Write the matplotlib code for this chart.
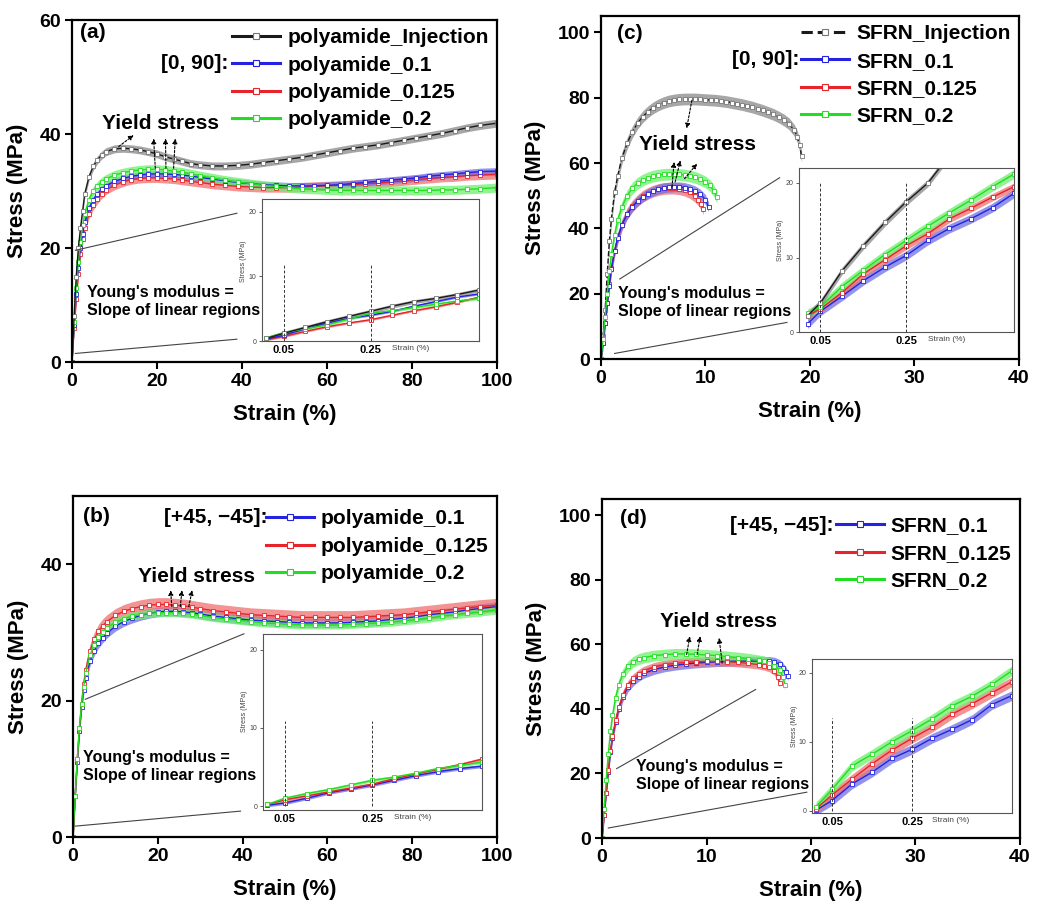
import numpy as np
import matplotlib.pyplot as plt
from matplotlib.lines import Line2D

plt.rcParams['font.family'] = ['Liberation Sans', 'DejaVu Sans']
plt.rcParams['font.weight'] = 'bold'

# ---------------- polyamide, strain grid shared by (a) and (b) ----------------
strain_pa = [0, 0.5, 1, 1.5, 2, 2.5, 3, 4, 5, 6, 7, 8, 10, 12, 14, 16, 18, 20, 22, 24,
             26, 28, 30, 33, 36, 39, 42, 45, 48, 51, 54, 57, 60, 63, 66, 69, 72, 75,
             78, 81, 84, 87, 90, 93, 96, 100]

# (a) [0, 90]
pa_inj = [0, 8, 15, 20, 23.5, 26.5, 29.5, 32.5, 34.3, 35.5, 36.3, 36.9, 37.4, 37.5, 37.4,
          37.2, 36.9, 36.5, 36.0, 35.6, 35.2, 34.8, 34.6, 34.4, 34.4, 34.5, 34.7, 35.0,
          35.3, 35.6, 35.9, 36.3, 36.7, 37.1, 37.5, 37.8, 38.1, 38.5, 38.9, 39.3, 39.7,
          40.1, 40.6, 41.1, 41.5, 41.9]
pa090_01 = [0, 6.5, 12, 16.5, 20, 22.5, 24.5, 27, 28.5, 29.5, 30.3, 30.9, 31.7, 32.2, 32.6,
            32.8, 33.0, 33.0, 33.0, 32.9, 32.8, 32.6, 32.4, 32.1, 31.8, 31.5, 31.3, 31.1,
            31.0, 30.9, 30.9, 30.9, 31.0, 31.1, 31.3, 31.5, 31.7, 31.9, 32.1, 32.3, 32.6,
            32.8, 33.0, 33.2, 33.4, 33.5]
pa090_0125 = [0, 6, 11, 15.5, 19, 21.5, 23.5, 26, 27.5, 28.6, 29.5, 30.2, 31.0, 31.6, 32.0,
              32.2, 32.3, 32.3, 32.2, 32.1, 31.9, 31.7, 31.5, 31.2, 31.0, 30.8, 30.7, 30.6,
              30.6, 30.6, 30.7, 30.8, 30.9, 31.0, 31.1, 31.3, 31.4, 31.6, 31.8, 32.0, 32.2,
              32.4, 32.5, 32.7, 32.8, 32.9]
pa090_02 = [0, 7, 13, 17.5, 21, 24, 26, 28.5, 30, 30.9, 31.6, 32.1, 32.8, 33.2, 33.5, 33.7,
            33.8, 33.8, 33.7, 33.5, 33.3, 33.0, 32.7, 32.3, 31.9, 31.6, 31.3, 31.0, 30.8,
            30.6, 30.4, 30.3, 30.2, 30.1, 30.1, 30.1, 30.1, 30.1, 30.1, 30.1, 30.1, 30.2,
            30.2, 30.3, 30.4, 30.6]

# (b) [+45, -45]
pa45_01 = [0, 6, 11, 15.5, 19, 21.5, 23.3, 25.8, 27.3, 28.4, 29.2, 29.9, 30.9, 31.6, 32.1,
           32.5, 32.8, 33.0, 33.1, 33.1, 33.0, 32.9, 32.7, 32.4, 32.2, 32.0, 31.8, 31.7,
           31.6, 31.5, 31.4, 31.4, 31.4, 31.4, 31.5, 31.6, 31.7, 31.9, 32.1, 32.3, 32.6,
           32.8, 33.0, 33.3, 33.5, 33.8]
pa45_0125 = [0, 6, 11.5, 16, 19.5, 22.5, 24.5, 27.3, 29, 30.2, 31.0, 31.6, 32.5, 33.1, 33.5,
             33.8, 34.0, 34.1, 34.1, 34.0, 33.9, 33.7, 33.5, 33.2, 33.0, 32.8, 32.6, 32.5,
             32.4, 32.3, 32.2, 32.2, 32.2, 32.2, 32.2, 32.3, 32.4, 32.5, 32.6, 32.8, 33.0,
             33.2, 33.4, 33.6, 33.8, 34.0]
pa45_02 = [0, 6, 11.5, 16, 19.5, 22, 24, 26.7, 28.2, 29.3, 30.1, 30.7, 31.5, 32.0, 32.4,
           32.6, 32.8, 32.9, 32.9, 32.9, 32.8, 32.7, 32.5, 32.2, 32.0, 31.8, 31.6, 31.4,
           31.3, 31.2, 31.1, 31.1, 31.1, 31.1, 31.2, 31.3, 31.4, 31.5, 31.7, 31.9, 32.1,
           32.4, 32.6, 32.8, 33.0, 33.3]

# ---------------- SFRN (c) [0, 90] ----------------
sf_inj_x = [0, 0.2, 0.4, 0.6, 0.8, 1.0, 1.3, 1.6, 2.0, 2.5, 3.0, 3.5, 4.0, 4.5, 5, 5.5, 6,
            6.5, 7, 7.5, 8, 8.5, 9, 9.5, 10, 10.5, 11, 11.5, 12, 12.5, 13, 13.5, 14, 14.5,
            15, 15.5, 16, 16.5, 17, 17.5, 18, 18.5, 18.8, 19.0, 19.2]
sf_inj_y = [0, 7, 15, 26, 36, 43, 51, 56, 61.5, 66, 69.5, 72.2, 74.2, 75.7, 76.9, 77.8, 78.5,
            79.0, 79.3, 79.5, 79.6, 79.6, 79.6, 79.5, 79.4, 79.3, 79.2, 79.0, 78.8, 78.5,
            78.2, 77.9, 77.5, 77.1, 76.6, 76.1, 75.5, 74.9, 74.1, 73.2, 72.0, 70.0, 68.0,
            65.5, 62.0]
sf090_01_x = [0, 0.2, 0.4, 0.6, 0.8, 1.0, 1.3, 1.6, 2.0, 2.5, 3.0, 3.5, 4.0, 4.5, 5, 5.5,
              6, 6.5, 7, 7.5, 8, 8.5, 9, 9.5, 10, 10.3]
sf090_01_y = [0, 5, 11, 17, 22.5, 27.5, 33, 37, 41, 44.3, 46.6, 48.3, 49.6, 50.6, 51.4, 52.0,
              52.4, 52.6, 52.7, 52.7, 52.5, 52.1, 51.5, 50.5, 48.8, 46.5]
sf090_0125_x = [0, 0.2, 0.4, 0.6, 0.8, 1.0, 1.3, 1.6, 2.0, 2.5, 3.0, 3.5, 4.0, 4.5, 5, 5.5,
                6, 6.5, 7, 7.5, 8, 8.5, 9, 9.3, 9.6, 9.8]
sf090_0125_y = [0, 5, 11, 17, 23, 28, 33, 37, 41, 44.5, 46.8, 48.5, 49.8, 50.7, 51.4, 51.9,
                52.2, 52.3, 52.3, 52.1, 51.7, 51.0, 49.8, 48.8, 47.5, 46.0]
sf090_02_x = [0, 0.2, 0.4, 0.6, 0.8, 1.0, 1.3, 1.6, 2.0, 2.5, 3.0, 3.5, 4.0, 4.5, 5, 5.5,
              6, 6.5, 7, 7.5, 8, 8.5, 9, 9.5, 10, 10.4, 10.8, 11.1]
sf090_02_y = [0, 6, 13, 20, 27, 32, 38, 42.5, 46.5, 50, 52.3, 53.8, 54.8, 55.5, 56.0, 56.3,
              56.5, 56.6, 56.6, 56.5, 56.3, 56.0, 55.6, 55.0, 54.2, 53.2, 51.5, 49.5]

# ---------------- SFRN (d) [+45, -45] ----------------
sf45_01_x = [0, 0.2, 0.4, 0.6, 0.8, 1.0, 1.3, 1.6, 2.0, 2.5, 3.0, 3.5, 4, 5, 6, 7, 8, 9, 10,
             11, 12, 13, 14, 15, 16, 16.5, 17, 17.3, 17.6, 17.8]
sf45_01_y = [0, 7, 14, 20.5, 26.5, 31, 36, 40, 43.8, 46.8, 48.7, 50.0, 51.0, 52.2, 53.0,
             53.5, 53.9, 54.2, 54.4, 54.6, 54.7, 54.8, 54.8, 54.8, 54.7, 54.5, 53.8, 52.8,
             51.5, 50.3]
sf45_0125_x = [0, 0.2, 0.4, 0.6, 0.8, 1.0, 1.3, 1.6, 2.0, 2.5, 3.0, 3.5, 4, 5, 6, 7, 8, 9,
               10, 11, 12, 13, 14, 15, 15.5, 16, 16.5, 16.8, 17.0]
sf45_0125_y = [0, 7, 14, 21, 27, 31.5, 36.5, 40.5, 44.3, 47.5, 49.5, 50.8, 51.8, 53.0, 53.7,
               54.1, 54.4, 54.6, 54.7, 54.7, 54.6, 54.4, 54.1, 53.7, 53.4, 52.9, 51.8, 50.0,
               48.0]
sf45_02_x = [0, 0.2, 0.4, 0.6, 0.8, 1.0, 1.3, 1.6, 2.0, 2.5, 3.0, 3.5, 4, 5, 6, 7, 8, 9, 10,
             11, 12, 13, 14, 15, 15.5, 16, 16.5, 17, 17.3, 17.5]
sf45_02_y = [0, 9, 18, 26, 33, 38, 43.5, 47.5, 50.8, 53.2, 54.6, 55.4, 55.9, 56.5, 56.8,
             57.0, 57.0, 56.9, 56.7, 56.5, 56.2, 55.9, 55.5, 55.0, 54.7, 54.2, 53.4, 52.0,
             50.0, 47.5]

# ---------------- linear region (insets) ----------------
lin_x = [0.01, 0.05, 0.1, 0.15, 0.2, 0.25, 0.3, 0.35, 0.4, 0.45, 0.5]
lin_a_inj = [0.4, 1.2, 2.1, 3.0, 3.8, 4.6, 5.4, 6.1, 6.6, 7.2, 7.9]
lin_a_01 = [0.3, 0.9, 1.9, 2.8, 3.5, 4.0, 4.6, 5.4, 6.1, 6.8, 7.3]
lin_a_0125 = [0.2, 0.7, 1.5, 2.2, 2.8, 3.3, 4.0, 4.7, 5.3, 6.0, 6.8]
lin_a_02 = [0.5, 1.3, 1.9, 2.5, 3.4, 4.3, 4.7, 5.2, 5.7, 6.2, 6.6]

lin_b_01 = [0.1, 0.4, 1.0, 1.7, 2.2, 2.7, 3.3, 3.9, 4.4, 4.8, 5.1]
lin_b_0125 = [0.2, 0.8, 1.3, 1.8, 2.3, 2.8, 3.5, 4.1, 4.7, 5.3, 6.0]
lin_b_02 = [0.2, 1.0, 1.6, 2.1, 2.7, 3.3, 3.7, 4.2, 4.8, 5.2, 5.6]

lin_c_x = [0.02, 0.05, 0.1, 0.15, 0.2, 0.25, 0.3, 0.35, 0.4, 0.45, 0.5]
lin_c_inj_x = [0.02, 0.05, 0.1, 0.15, 0.2, 0.25, 0.3, 0.34]
lin_c_inj = [2.2, 3.9, 8.2, 11.6, 14.7, 17.5, 20.0, 23.0]
lin_c_01 = [1.1, 2.8, 4.8, 6.9, 8.7, 10.3, 12.3, 13.9, 15.2, 16.7, 18.6]
lin_c_0125 = [2.2, 3.1, 5.3, 7.8, 9.7, 11.6, 13.2, 15.2, 16.6, 18.1, 19.5]
lin_c_02 = [2.5, 3.4, 6.1, 8.3, 10.4, 12.3, 14.2, 16.0, 17.7, 19.5, 21.2]

lin_d_01 = [0.1, 1.5, 3.9, 5.6, 7.6, 8.9, 10.5, 11.8, 13.2, 15.4, 16.7]
lin_d_0125 = [0.3, 2.3, 4.6, 6.8, 8.8, 10.5, 12.1, 14.0, 15.5, 17.1, 18.7]
lin_d_02 = [0.6, 3.1, 6.5, 8.2, 10.0, 11.6, 13.3, 15.2, 16.6, 18.3, 20.3]

BLUE, RED, GREEN, BLACK = '#2323e0', '#e8232a', '#22dd22', '#1a1a1a'
BAND = {BLUE: '#6f6fe6', RED: '#ef7070', GREEN: '#6ff06f', BLACK: '#8a8a8a'}


def draw_curve(ax, x, y, color, spread, ms=3.2, ls='-'):
    x = np.asarray(x)
    y = np.asarray(y)
    ax.fill_between(x, y - spread, y + spread, color=BAND[color], alpha=0.75, lw=0)
    mec = '#777777' if color == BLACK else color
    ax.plot(x, y, color=color, lw=1, ls=ls, marker='s', ms=ms, mfc='white', mec=mec,
            mew=0.6)


def style_main(ax, xlim, ylim, xticks, yticks):
    ax.set_xlim(xlim)
    ax.set_ylim(ylim)
    ax.set_xticks(xticks)
    ax.set_yticks(yticks)
    ax.tick_params(direction='out', length=5, width=1.5, labelsize=14, pad=3)
    for s in ax.spines.values():
        s.set_linewidth(1.6)
    ax.set_xlabel('Strain (%)', fontsize=16, fontweight='bold', labelpad=10)
    ax.set_ylabel('Stress (MPa)', fontsize=16, fontweight='bold', labelpad=8)


def add_legend(ax, names, colors, group, gx, gy, top=1.0, dashed_first=False):
    handles = []
    for i, (n, c) in enumerate(zip(names, colors)):
        mec = '#777777' if c == BLACK else c
        ls = '--' if (dashed_first and i == 0) else '-'
        handles.append(Line2D([], [], color=c, lw=2.2, ls=ls, marker='s', ms=4, mfc='white',
                              mec=mec, mew=0.8, label=n))
    ax.legend(handles=handles, loc='upper right', bbox_to_anchor=(1.0, top), frameon=False,
              prop={'size': 15, 'weight': 'bold'}, handlelength=2.3, handletextpad=0.35,
              labelspacing=0.4, borderaxespad=0.2, borderpad=0.2)
    ax.text(gx, gy, group, transform=ax.transAxes, ha='right', va='center', fontsize=15,
            fontweight='bold')


def add_notes(ax, tag, tag_xy, young_xy, yield_xy, arrows):
    ax.text(tag_xy[0], tag_xy[1], tag, transform=ax.transAxes, ha='left', va='center',
            fontsize=15, fontweight='bold')
    ax.text(young_xy[0], young_xy[1], "Young's modulus =\nSlope of linear regions",
            transform=ax.transAxes, ha='left', va='center', fontsize=11.5, fontweight='bold',
            linespacing=1.25)
    ax.text(yield_xy[0], yield_xy[1], 'Yield stress', ha='center', va='center', fontsize=15,
            fontweight='bold')
    for (x0, y0), (x1, y1) in arrows:
        ax.annotate('', xy=(x1, y1), xytext=(x0, y0),
                    arrowprops=dict(arrowstyle='-|>', color='k', lw=0.8, ls=(0, (2, 1.5)),
                                    mutation_scale=7, shrinkA=0, shrinkB=0))


def zoom_lines(ax, segs):
    for (x0, y0), (x1, y1) in segs:
        ax.plot([x0, x1], [y0, y1], color='#444444', lw=0.8)


def make_inset(fig, rect, curves, dash_top, ylim=(0, 22)):
    ins = fig.add_axes(rect)
    for x, y, c, sd in curves:
        draw_curve(ins, x, y, c, sd, ms=2.2)
    for xv in (0.05, 0.25):
        ins.plot([xv, xv], [0, dash_top], color='#333333', lw=0.7, ls=(0, (3, 2)))
    ins.set_xlim(0, 0.5)
    ins.set_ylim(ylim)
    ins.set_xticks([0.05, 0.25])
    ins.set_xticklabels(['0.05', '0.25'], fontsize=8, fontweight='bold')
    ins.set_yticks([0, 10, 20])
    ins.set_yticklabels(['0', '10', '20'], fontsize=5, fontweight='normal', color='#444444')
    ins.tick_params(axis='x', length=0, pad=3)
    ins.tick_params(axis='y', length=2, width=0.6, pad=2, colors='#444444')
    for s in ins.spines.values():
        s.set_linewidth(0.8)
        s.set_color('#555555')
    ins.set_ylabel('Stress (MPa)', fontsize=5, fontweight='normal', color='#444444',
                   labelpad=1)
    ins.yaxis.set_label_coords(-0.07, 0.56)
    ins.text(0.60, -0.025, 'Strain (%)', transform=ins.transAxes, ha='left', va='top',
             fontsize=6, fontweight='normal', color='#444444')
    return ins


fig = plt.figure(figsize=(10.51, 9.05), dpi=100)

# ---------------- (a) ----------------
ax = fig.add_axes([0.0685, 0.6, 0.4044, 0.3779])
draw_curve(ax, strain_pa, pa090_0125, RED, 0.8)
draw_curve(ax, strain_pa, pa090_01, BLUE, 0.6)
draw_curve(ax, strain_pa, pa090_02, GREEN, 0.8)
draw_curve(ax, strain_pa, pa_inj, BLACK, 0.7)
style_main(ax, (0, 100), (0, 60), [0, 20, 40, 60, 80, 100], [0, 20, 40, 60])
add_legend(ax, ['polyamide_Injection', 'polyamide_0.1', 'polyamide_0.125', 'polyamide_0.2'],
           [BLACK, BLUE, RED, GREEN], '[0, 90]:', 0.367, 0.874)
add_notes(ax, '(a)', (0.019, 0.962), (0.035, 0.178), (20.8, 41.9),
          [((11.0, 37.8), (14.5, 39.8)), ((19.6, 34.0), (19.2, 39.2)),
           ((22.1, 34.0), (22.0, 39.2)), ((23.9, 34.0), (24.3, 39.2))])
zoom_lines(ax, [((0.8, 19.6), (38.8, 26.1)), ((0.8, 1.5), (38.8, 4.0))])
make_inset(fig, [0.2493, 0.6232, 0.2065, 0.1569],
           [(lin_x, lin_a_0125, RED, 0.15), (lin_x, lin_a_01, BLUE, 0.15),
            (lin_x, lin_a_02, GREEN, 0.2), (lin_x, lin_a_inj, BLACK, 0.3)], 11.8)

# ---------------- (c) ----------------
ax = fig.add_axes([0.5718, 0.6033, 0.3977, 0.3790])
draw_curve(ax, sf_inj_x, sf_inj_y, BLACK, 1.8, ls='--')
draw_curve(ax, sf090_0125_x, sf090_0125_y, RED, 1.8)
draw_curve(ax, sf090_01_x, sf090_01_y, BLUE, 1.5)
draw_curve(ax, sf090_02_x, sf090_02_y, GREEN, 1.8)
style_main(ax, (0, 40), (0, 105), [0, 10, 20, 30, 40], [0, 20, 40, 60, 80, 100])
add_legend(ax, ['SFRN_Injection', 'SFRN_0.1', 'SFRN_0.125', 'SFRN_0.2'],
           [BLACK, BLUE, RED, GREEN], '[0, 90]:', 0.474, 0.872, dashed_first=True)
add_notes(ax, '(c)', (0.038, 0.950), (0.041, 0.166), (9.2, 65.7),
          [((8.7, 79.2), (8.2, 70.6)), ((6.8, 52.7), (7.0, 60.3)),
           ((7.1, 54.2), (7.6, 60.8)), ((8.0, 55.2), (9.2, 59.8))])
zoom_lines(ax, [((1.8, 24.5), (17.1, 55.5)), ((1.3, 1.7), (17.8, 11.2))])
make_inset(fig, [0.7602, 0.6331, 0.2046, 0.1812],
           [(lin_c_x, lin_c_01, BLUE, 0.6), (lin_c_x, lin_c_0125, RED, 0.5),
            (lin_c_x, lin_c_02, GREEN, 0.6), (lin_c_inj_x, lin_c_inj, BLACK, 0.5)], 20.0)

# ---------------- (b) ----------------
ax = fig.add_axes([0.0695, 0.0751, 0.4034, 0.3768])
draw_curve(ax, strain_pa, pa45_01, BLUE, 0.7)
draw_curve(ax, strain_pa, pa45_0125, RED, 1.0)
draw_curve(ax, strain_pa, pa45_02, GREEN, 0.6)
style_main(ax, (0, 100), (0, 50), [0, 20, 40, 60, 80, 100], [0, 20, 40])
add_legend(ax, ['polyamide_0.1', 'polyamide_0.125', 'polyamide_0.2'],
           [BLUE, RED, GREEN], '[+45, \u221245]:', 0.458, 0.938, top=0.985)
add_notes(ax, '(b)', (0.024, 0.941), (0.024, 0.208), (29.1, 38.2),
          [((23.3, 33.8), (23.0, 36.2)), ((25.3, 33.8), (25.7, 36.2)),
           ((27.3, 33.8), (28.1, 36.2))])
zoom_lines(ax, [((2.9, 20.2), (40.3, 29.8)), ((0.55, 1.6), (39.5, 3.8))])
make_inset(fig, [0.2502, 0.1050, 0.2084, 0.1945],
           [(lin_x, lin_b_01, BLUE, 0.2), (lin_x, lin_b_0125, RED, 0.2),
            (lin_x, lin_b_02, GREEN, 0.2)], 10.9, ylim=(-0.5, 22))

# ---------------- (d) ----------------
ax = fig.add_axes([0.5728, 0.0740, 0.3977, 0.3746])
draw_curve(ax, sf45_01_x, sf45_01_y, BLUE, 1.5)
draw_curve(ax, sf45_0125_x, sf45_0125_y, RED, 1.4)
draw_curve(ax, sf45_02_x, sf45_02_y, GREEN, 1.7)
style_main(ax, (0, 40), (0, 105), [0, 10, 20, 30, 40], [0, 20, 40, 60, 80, 100])
add_legend(ax, ['SFRN_0.1', 'SFRN_0.125', 'SFRN_0.2'],
           [BLUE, RED, GREEN], '[+45, \u221245]:', 0.553, 0.923, top=0.973)
add_notes(ax, '(d)', (0.043, 0.944), (0.081, 0.183), (11.1, 67.1),
          [((8.1, 56.8), (8.4, 62.5)), ((9.1, 56.8), (9.4, 62.5)),
           ((11.5, 54.2), (11.2, 62.0))])
zoom_lines(ax, [((1.4, 21.5), (14.7, 46.0)), ((0.6, 3.1), (19.6, 14.2))])
make_inset(fig, [0.7726, 0.1017, 0.1903, 0.1702],
           [(lin_x, lin_d_01, BLUE, 0.7), (lin_x, lin_d_0125, RED, 0.7),
            (lin_x, lin_d_02, GREEN, 0.7)], 13.5, ylim=(-0.3, 22))

fig.savefig('out.png', dpi=100)
